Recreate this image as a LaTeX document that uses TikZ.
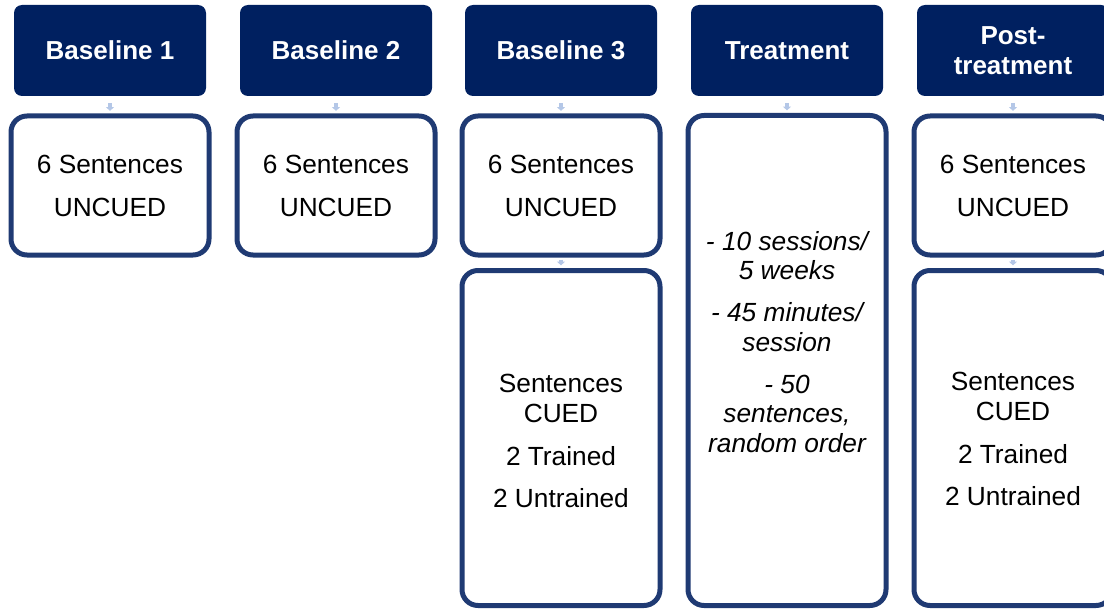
\documentclass[tikz,border=0pt]{standalone}
\usepackage{fontspec}
\setmainfont{Liberation Sans}
\usetikzlibrary{arrows.meta}
\definecolor{navy}{RGB}{0,32,96}
\definecolor{frameblue}{RGB}{31,58,115}
\definecolor{arrowblue}{RGB}{180,199,231}

\begin{document}
\begin{tikzpicture}[x=0.75pt, y=-0.75pt, line join=round, line cap=round,
		head/.style={fill=navy, rounded corners=6pt, minimum width=144pt, minimum height=68.25pt, inner sep=0pt,
			text=white, align=center, font=\fontsize{19.5}{22.5}\selectfont\bfseries},
		box/.style={draw=frameblue, fill=white, line width=3.75pt, rounded corners=12pt, minimum width=148.5pt, inner sep=0pt,
			align=center, font=\fontsize{19.7}{22.3}\selectfont},
		conn/.style={draw=arrowblue, line width=3.6pt, line cap=butt, -{Triangle[length=2.8pt,width=6pt]}, shorten >=2pt}]
		\useasboundingbox (0,0) rectangle (1104,610);
		% phase headers
		\node[head] (base1) at (110,50.5) {Baseline 1};
		\node[head] (base2) at (336,50.5) {Baseline 2};
		\node[head] (base3) at (561,50.5) {Baseline 3};
		\node[head] (treat) at (787,50.5) {Treatment};
		\node[head] (post) at (1013,50.5) {Post-\\treatment};
		% probes
		\node[box, minimum height=104.25pt] (unc1) at (110,185.5) {6 Sentences\\[10pt]UNCUED};
		\node[box, minimum height=104.25pt] (unc2) at (336,185.5) {6 Sentences\\[10pt]UNCUED};
		\node[box, minimum height=104.25pt] (unc3) at (561,185.5) {6 Sentences\\[10pt]UNCUED};
		\node[box, minimum height=104.25pt] (unc5) at (1013,185.5) {6 Sentences\\[10pt]UNCUED};
		\node[box, minimum height=251.25pt] (cue3) at (561,438) {};
		\node[box, minimum height=251.25pt] (cue5) at (1013,438) {};
		\node[align=center, font=\fontsize{19.7}{22.3}\selectfont] (cue3text) at (561,441)
			{Sentences\\CUED\\[10pt]2 Trained\\[9pt]2 Untrained};
		\node[align=center, font=\fontsize{19.7}{22.3}\selectfont] (cue5text) at (1013,439)
			{Sentences\\CUED\\[10pt]2 Trained\\[9pt]2 Untrained};
		\node[box, minimum height=367.5pt] (sess) at (787,360.5) {};
		\node[align=center, font=\fontsize{19.7}{22.3}\selectfont\itshape] (sesstext) at (787,342)
			{- 10 sessions/\\5 weeks\\[9pt]- 45 minutes/\\session\\[9pt]- 50\\sentences,\\random order};
		% small arrows
		\foreach \a/\b in {base1/unc1, base2/unc2, base3/unc3, treat/sess, post/unc5}
			\draw[conn, shorten <=5pt] (\a) -- (\b);
		\draw[conn, shorten <=1.5pt] (unc3) -- (cue3);
		\draw[conn, shorten <=1.5pt] (unc5) -- (cue5);
	\end{tikzpicture}
\end{document}
